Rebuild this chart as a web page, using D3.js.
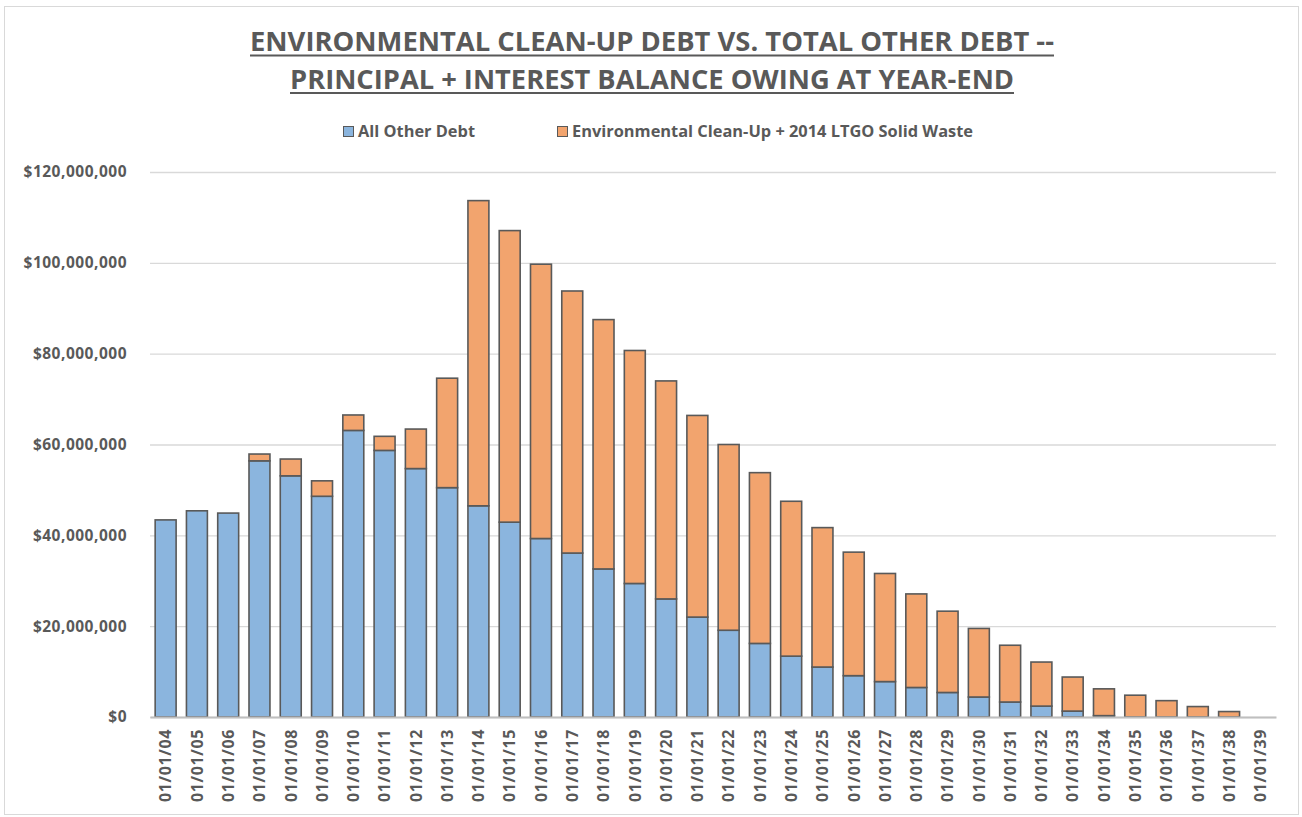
<!DOCTYPE html>
<html>
<head>
<meta charset="utf-8">
<script src="https://cdn.jsdelivr.net/npm/d3@7"></script>
<style>
  body { margin: 0; background: #fff; }
  text { font-family: "Open Sans", sans-serif; font-weight: bold; fill: #595959; }
</style>
</head>
<body>
<div id="canvas"></div>
<script>
"use strict"

// DATA (values in $ millions)

let years = ["01/01/04", "01/01/05", "01/01/06", "01/01/07", "01/01/08", "01/01/09",
    "01/01/10", "01/01/11", "01/01/12", "01/01/13", "01/01/14", "01/01/15",
    "01/01/16", "01/01/17", "01/01/18", "01/01/19", "01/01/20", "01/01/21",
    "01/01/22", "01/01/23", "01/01/24", "01/01/25", "01/01/26", "01/01/27",
    "01/01/28", "01/01/29", "01/01/30", "01/01/31", "01/01/32", "01/01/33",
    "01/01/34", "01/01/35", "01/01/36", "01/01/37", "01/01/38", "01/01/39"];

let otherDebt = [43.4, 45.4, 44.9, 56.4, 53.1, 48.6, 63.1, 58.7, 54.7, 50.5,
    46.5, 42.9, 39.3, 36.1, 32.6, 29.4, 26.0, 22.0, 19.1, 16.2,
    13.4, 11.0, 9.1, 7.8, 6.5, 5.4, 4.4, 3.3, 2.4, 1.3,
    0.3, 0, 0, 0, 0, 0];

let envDebt = [0, 0, 0, 1.5, 3.7, 3.4, 3.4, 3.1, 8.7, 24.1,
    67.2, 64.2, 60.4, 57.7, 54.9, 51.3, 48.0, 44.4, 40.9, 37.6,
    34.1, 30.7, 27.2, 23.8, 20.6, 17.9, 15.1, 12.5, 9.7, 7.5,
    5.9, 4.8, 3.6, 2.3, 1.2, 0];

let seriesNames = ["All Other Debt", "Environmental Clean-Up + 2014 LTGO Solid Waste"];
let yTicks = [0, 20, 40, 60, 80, 100, 120];


// CONFIGURATION

let svgWidth = 1302;
let svgHeight = 817;
let plot = { left: 150, right: 1276, top: 172, bottom: 717 };
let colors = ["#8bb5de", "#f2a46e"];
let textColor = "#595959";


// CREATE SVG

let svg = d3.select("#canvas")
    .append("svg")
    .attr("width", svgWidth)
    .attr("height", svgHeight);

svg.append("rect")
    .attr("x", 4.5)
    .attr("y", 6.5)
    .attr("width", 1294)
    .attr("height", 808)
    .attr("fill", "white")
    .attr("stroke", "#d9d9d9");


// TITLE (underlined)

let titleLines = [
    { text: "ENVIRONMENTAL CLEAN-UP DEBT VS. TOTAL OTHER DEBT --", y: 51, width: 804 },
    { text: "PRINCIPAL + INTEREST BALANCE OWING AT YEAR-END", y: 88.5, width: 724 }
];

titleLines.forEach(function(t) {
    svg.append("text")
        .attr("x", 652)
        .attr("y", t.y)
        .attr("text-anchor", "middle")
        .attr("textLength", t.width)
        .attr("lengthAdjust", "spacingAndGlyphs")
        .style("font-size", "26px")
        .text(t.text);
    svg.append("line")
        .attr("x1", 652 - t.width / 2)
        .attr("x2", 652 + t.width / 2)
        .attr("y1", t.y + 4.5)
        .attr("y2", t.y + 4.5)
        .attr("stroke", textColor)
        .attr("stroke-width", 2);
});


// SCALES

let xScale = d3.scaleBand()
    .domain(years)
    .range([plot.left, plot.right])
    .paddingInner(0.33)
    .paddingOuter(0.165);

let yScale = d3.scaleLinear()
    .domain([0, 120])
    .range([plot.bottom, plot.top]);


// GRIDLINES + Y AXIS

let yAxis = d3.axisLeft(yScale)
    .tickValues(yTicks)
    .tickSize(-(plot.right - plot.left))
    .tickPadding(23)
    .tickFormat(function(d) { return d === 0 ? "$0" : "$" + d3.format(",")(d * 1000000); });

let yG = svg.append("g")
    .attr("transform", "translate(" + plot.left + ",0)")
    .call(yAxis);

yG.select(".domain").remove();
yG.selectAll(".tick line")
    .attr("stroke", "#d9d9d9")
    .attr("stroke-width", 1.3);
yG.selectAll(".tick text")
    .attr("fill", textColor)
    .style("font-size", "15.5px")
    .style("letter-spacing", "0.5px")
    .style("font-family", "'Open Sans', sans-serif")
    .style("font-weight", "bold");


// STACKED BARS

let table = years.map(function(y, i) {
    return { year: y, other: otherDebt[i], env: envDebt[i] };
});

let stack = d3.stack().keys(["other", "env"]);
let layers = stack(table);

svg.selectAll("g.layer")
    .data(layers)
    .join("g")
    .attr("class", "layer")
    .attr("fill", function(d, i) { return colors[i]; })
    .selectAll("rect")
    .data(function(d) { return d.filter(function(p) { return p[1] - p[0] > 0; }); })
    .join("rect")
    .attr("x", function(d) { return xScale(d.data.year); })
    .attr("y", function(d) { return yScale(d[1]); })
    .attr("width", xScale.bandwidth())
    .attr("height", function(d) { return yScale(d[0]) - yScale(d[1]); })
    .attr("stroke", "#595959")
    .attr("stroke-width", 1.6);


// X AXIS

let xAxis = d3.axisBottom(xScale).tickSize(0).tickPadding(10);

let xG = svg.append("g")
    .attr("transform", "translate(0," + plot.bottom + ")")
    .call(xAxis);

xG.select(".domain")
    .attr("stroke", "#bfbfbf")
    .attr("stroke-width", 2);

xG.selectAll(".tick text")
    .attr("fill", textColor)
    .attr("transform", "rotate(-90)")
    .attr("text-anchor", "end")
    .attr("dy", "0.36em")
    .attr("x", -12)
    .attr("y", 0)
    .style("font-size", "16px")
    .style("letter-spacing", "0.6px")
    .style("font-family", "'Open Sans', sans-serif")
    .style("font-weight", "bold");


// LEGEND

let legendItems = [
    { name: seriesNames[0], color: colors[0], x: 343, width: 117 },
    { name: seriesNames[1], color: colors[1], x: 557, width: 401 }
];

legendItems.forEach(function(item) {
    svg.append("rect")
        .attr("x", item.x + 0.5)
        .attr("y", 126.5)
        .attr("width", 10)
        .attr("height", 10)
        .attr("fill", item.color)
        .attr("stroke", "#595959")
        .attr("stroke-width", 1);
    svg.append("text")
        .attr("x", item.x + 15)
        .attr("y", 137)
        .attr("textLength", item.width)
        .attr("lengthAdjust", "spacingAndGlyphs")
        .style("font-size", "16px")
        .text(item.name);
});
</script>
</body>
</html>
